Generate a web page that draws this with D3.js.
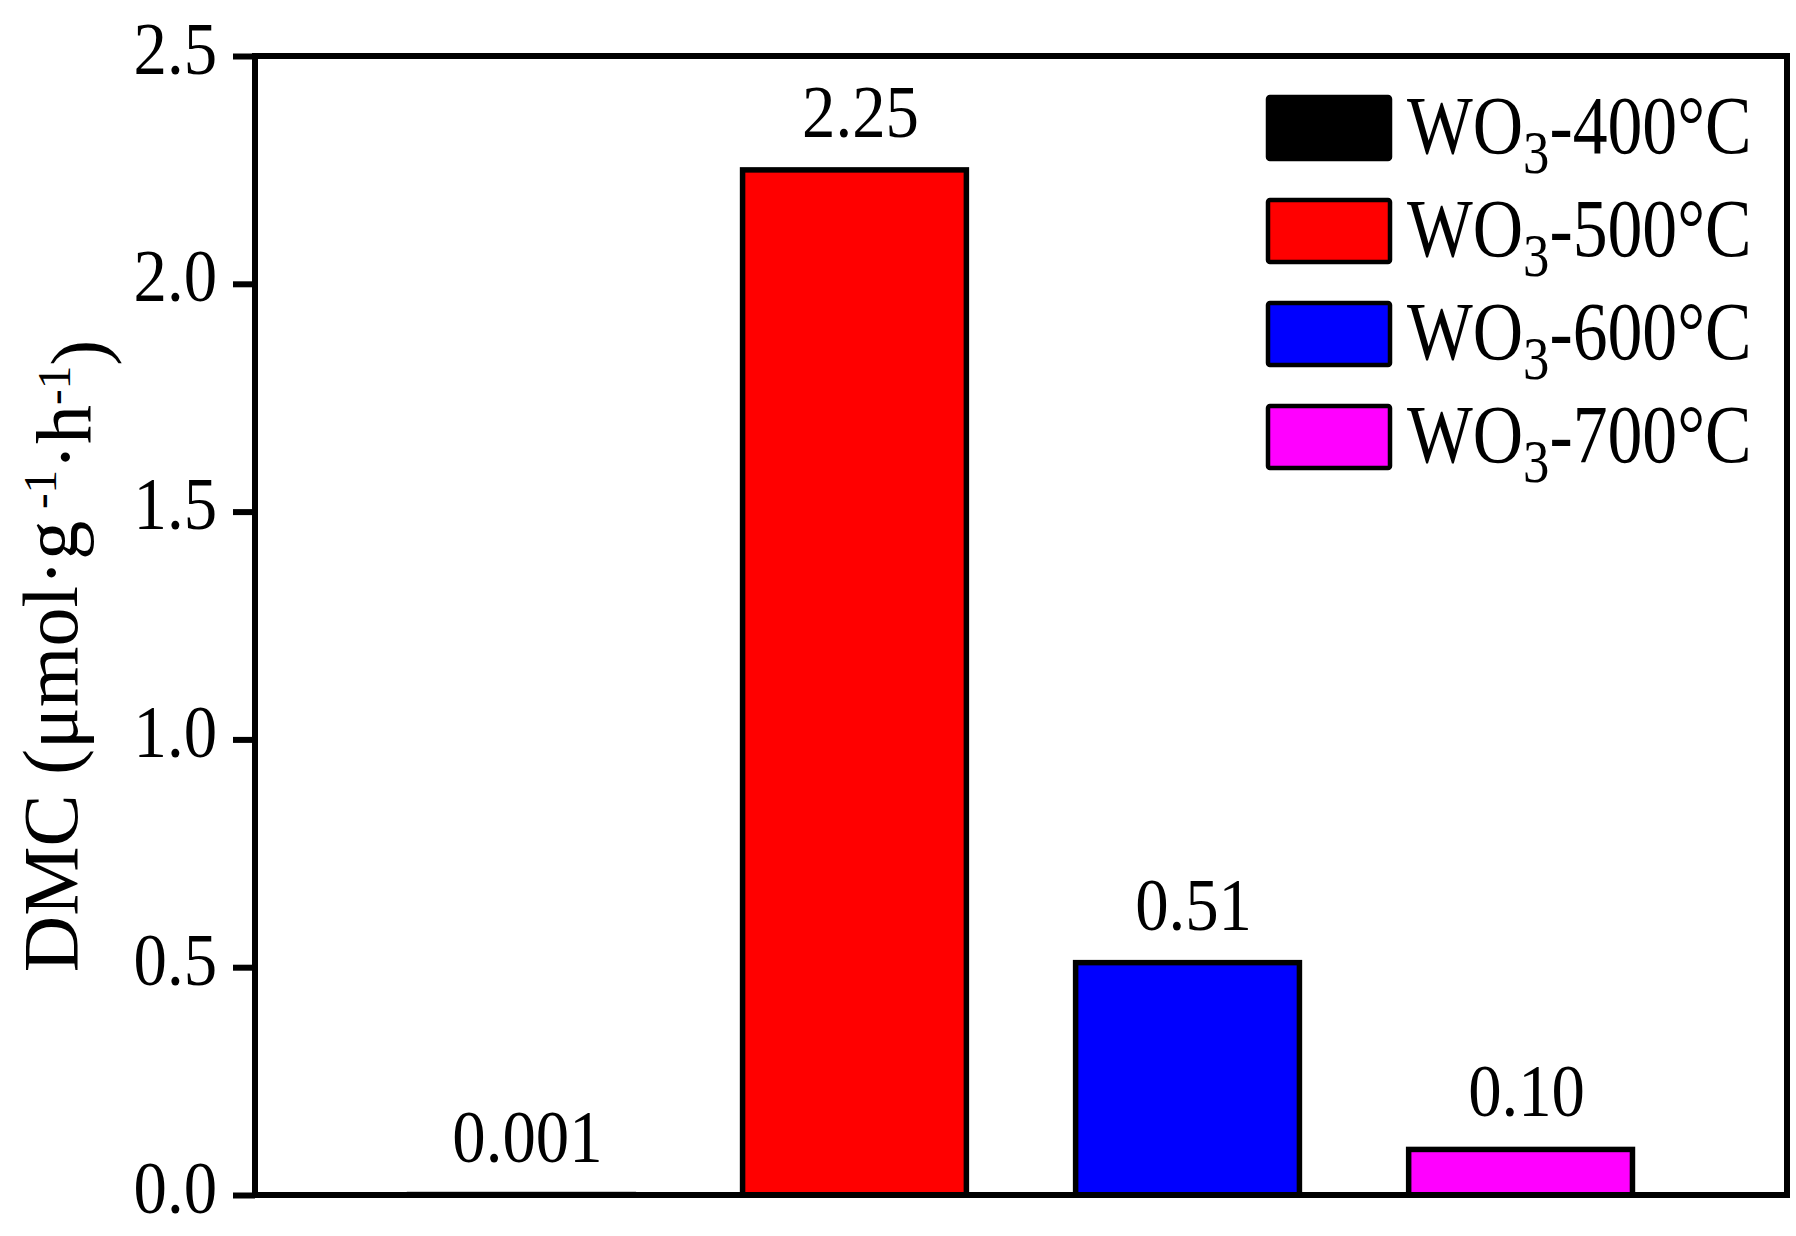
<!DOCTYPE html>
<html>
<head>
<meta charset="utf-8">
<script src="https://cdn.jsdelivr.net/npm/d3@7"></script>
<style>
  html, body { margin: 0; padding: 0; background: #fff; }
  svg { display: block; }
  text { font-family: "Liberation Serif", "Times New Roman", Times, serif; fill: #000; }
</style>
</head>
<body>
<svg id="chart" width="1796" height="1236"></svg>
<script>
// ---- data ----
const categories = ["WO3-400°C", "WO3-500°C", "WO3-600°C", "WO3-700°C"];
const legendTemps = ["-400°C", "-500°C", "-600°C", "-700°C"];
const values = [0.001, 2.25, 0.51, 0.10];
const valueLabels = ["0.001", "2.25", "0.51", "0.10"];
const colors = ["#000000", "#ff0000", "#0000ff", "#ff00ff"];
const yTicks = [0.0, 0.5, 1.0, 1.5, 2.0, 2.5];

// ---- layout ----
const W = 1796, H = 1236;
const plot = { left: 255, right: 1787, top: 56, bottom: 1195 };
const SX = 0.89; // horizontal squeeze of the reference's glyphs

const svg = d3.select("#chart");
svg.append("rect").attr("width", W).attr("height", H).attr("fill", "#fff");

const x = d3.scaleBand()
  .domain(categories)
  .range([plot.left, plot.right])
  .paddingInner(0.328)
  .paddingOuter(0.464);

const y = d3.scaleLinear()
  .domain([0, 2.5])
  .range([plot.bottom, plot.top]);

// bars
svg.append("g").selectAll("rect")
  .data(values)
  .join("rect")
  .attr("x", (d, i) => x(categories[i]))
  .attr("y", d => y(d))
  .attr("width", x.bandwidth())
  .attr("height", d => y(0) - y(d))
  .attr("fill", (d, i) => colors[i])
  .attr("stroke", "#000")
  .attr("stroke-width", 5.5);

// value labels
svg.append("g").selectAll("text")
  .data(values)
  .join("text")
  .attr("transform", (d, i) =>
    `translate(${x(categories[i]) + x.bandwidth() / 2 + 6},${y(d) - 33}) scale(${SX},1)`)
  .attr("text-anchor", "middle")
  .style("font-size", "75px")
  .text((d, i) => valueLabels[i]);

// y axis
const yAxis = d3.axisLeft(y)
  .tickValues(yTicks)
  .tickFormat(d3.format(".1f"))
  .tickSizeInner(22)
  .tickSizeOuter(0)
  .tickPadding(16);

const gy = svg.append("g")
  .attr("transform", `translate(${plot.left},0)`)
  .call(yAxis);
gy.select(".domain").remove();
gy.selectAll(".tick line").attr("stroke", "#000").attr("stroke-width", 6);
gy.selectAll(".tick text")
  .style("font-size", "75px")
  .attr("font-family", null)
  .each(function () {
    const t = d3.select(this);
    const tx = +t.attr("x");
    t.attr("x", 0).attr("dy", null).attr("y", 0)
     .attr("transform", `translate(${tx},17) scale(${SX},1)`);
  });
gy.attr("font-size", null).attr("font-family", null);

// frame
svg.append("rect")
  .attr("x", plot.left).attr("y", plot.top)
  .attr("width", plot.right - plot.left)
  .attr("height", plot.bottom - plot.top)
  .attr("fill", "none")
  .attr("stroke", "#000")
  .attr("stroke-width", 6);

// y label
const yl = svg.append("text")
  .attr("transform", `translate(77,656) rotate(-90)`)
  .attr("text-anchor", "middle")
  .style("font-size", "78px");
yl.append("tspan").text("DMC (μmol·g");
yl.append("tspan").attr("dy", "-0.45em").style("font-size", "47px").text(" -1");
yl.append("tspan").attr("dy", "0.45em").text("·h");
yl.append("tspan").attr("dy", "-0.45em").style("font-size", "47px").text("-1");
yl.append("tspan").attr("dy", "0.45em").text(")");

// legend
const legend = svg.append("g");
const rowStep = 103, rowTop = 97, swX = 1268, swW = 122, swH = 62;
categories.forEach((c, i) => {
  const top = rowTop + i * rowStep;
  legend.append("rect")
    .attr("x", swX).attr("y", top)
    .attr("width", swW).attr("height", swH)
    .attr("rx", 2)
    .attr("fill", colors[i])
    .attr("stroke", "#000")
    .attr("stroke-width", 4.5);
  const t = legend.append("text")
    .attr("transform", `translate(1407,${top + 56}) scale(0.85,1)`)
    .style("font-size", "82px");
  t.append("tspan").text("WO");
  t.append("tspan").attr("dy", "20").style("font-size", "62px").text("3");
  t.append("tspan").attr("dy", "-20").text(legendTemps[i]);
});
</script>
</body>
</html>
